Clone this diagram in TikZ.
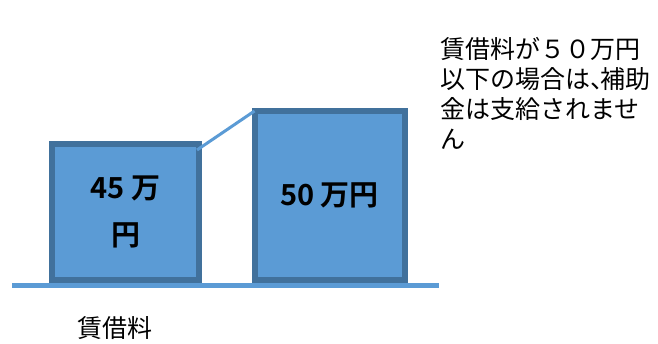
\documentclass[tikz,border=0pt]{standalone}
\usepackage{fontspec}
\setmainfont{Noto Sans CJK JP}[BoldFont=Noto Sans CJK JP Bold]
\usepackage{tikz}
\usetikzlibrary{positioning}
\definecolor{boxfill}{HTML}{5B9BD5}
\definecolor{boxedge}{HTML}{41719C}
\tikzstyle{rentbox} = [rectangle, outer sep=0pt, line width=6pt, draw=boxedge, fill=boxfill, text centered, align=center, font=\bfseries\fontsize{29}{47}\selectfont]
\tikzstyle{note} = [inner sep=0pt, align=left, font=\fontsize{25}{30}\selectfont]
\tikzstyle{ground} = [line width=5pt, draw=boxfill]
\tikzstyle{link} = [line width=3pt, draw=boxfill]

\begin{document}
\begin{tikzpicture}[x=1pt, y=1pt]
			\useasboundingbox (0,0) rectangle (658,343);

			\node (low) [rentbox, minimum width=147pt, minimum height=135.5pt] at (125.5,130.75) {45 万\\円};
			\node (high) [rentbox, minimum width=150pt, minimum height=169pt] at (329.5,147.5) {50 万円};
			\node (cond) [note, anchor=north west] at (440,306) {賃借料が５０万円\\以下の場合は、\kern-0.6em補助\\金は支給されませ\\ん};
			\node (rent) [note] at (115,15) {賃借料};

			\coordinate (groundL) at (12,57.3);
			\coordinate (groundR) at (439,57.3);
			\draw [ground] (groundL) -- (groundR);

			\draw [link] ([xshift=-2pt,yshift=-5.5pt]low.north east) -- (high.north west);

		\end{tikzpicture}
\end{document}
